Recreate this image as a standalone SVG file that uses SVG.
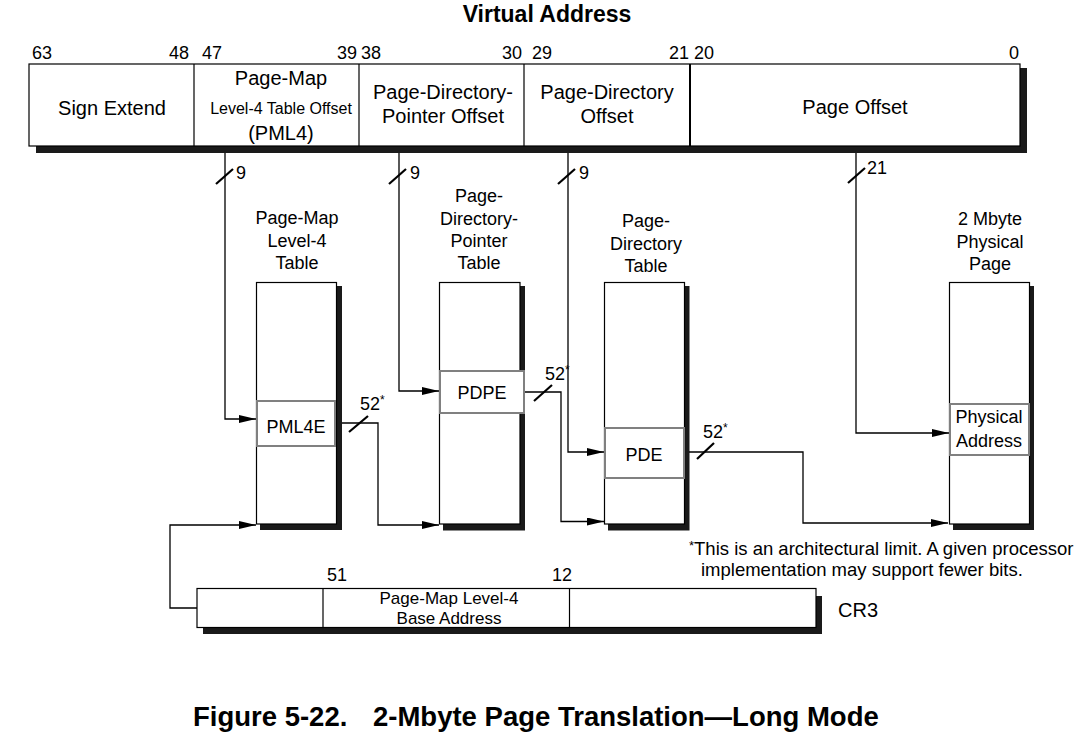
<svg xmlns="http://www.w3.org/2000/svg" width="1088" height="740" viewBox="0 0 1088 740">
<style>
text{font-family:"Liberation Sans",Arial,sans-serif;fill:#000}
.t20{font-size:20px}
.t18{font-size:18px}
.t16{font-size:16px}
.c{text-anchor:middle}
.e{text-anchor:end}
.box{fill:#fff;stroke:#000;stroke-width:1.2}
.sh{fill:#1a1a1a}
.ent{fill:#fff;stroke:#808080;stroke-width:2}
.ln{fill:none;stroke:#000;stroke-width:1.3}
.sl{stroke:#000;stroke-width:2.2}
</style>
<defs>
<marker id="ar" markerUnits="userSpaceOnUse" markerWidth="17" markerHeight="8" refX="17" refY="4" orient="auto">
<path d="M0,0 L17,4 L0,8 z" fill="#000"/>
</marker>
</defs>
<rect width="1088" height="740" fill="#fff"/>

<g id="title">
<text x="547" y="22" class="c" style="font-size:23px;font-weight:bold">Virtual Address</text>
</g>

<g id="virtual-address">
<rect class="sh" x="36" y="68" width="991" height="85"/>
<rect class="box" x="29" y="64" width="991" height="82"/>
<line x1="194" y1="64" x2="194" y2="146" stroke="#000" stroke-width="1.2"/>
<line x1="359" y1="64" x2="359" y2="146" stroke="#000" stroke-width="1.2"/>
<line x1="524" y1="64" x2="524" y2="146" stroke="#000" stroke-width="1.2"/>
<line x1="690" y1="64" x2="690" y2="146" stroke="#000" stroke-width="2"/>
<text x="32" y="59" class="t18">63</text>
<text x="189" y="59" class="t18 e">48</text>
<text x="202" y="59" class="t18">47</text>
<text x="357" y="59" class="t18 e">39</text>
<text x="361" y="59" class="t18">38</text>
<text x="522" y="59" class="t18 e">30</text>
<text x="532" y="59" class="t18">29</text>
<text x="689" y="59" class="t18 e">21</text>
<text x="694" y="59" class="t18">20</text>
<text x="1019" y="59" class="t18 e">0</text>
<text x="112" y="115" class="t20 c">Sign Extend</text>
<text x="281" y="85" class="t20 c">Page-Map</text>
<text x="281" y="114" class="t16 c">Level-4 Table Offset</text>
<text x="281" y="140" class="t20 c">(PML4)</text>
<text x="443" y="99" class="t20 c">Page-Directory-</text>
<text x="443" y="123" class="t20 c">Pointer Offset</text>
<text x="607" y="99" class="t20 c">Page-Directory</text>
<text x="607" y="123" class="t20 c">Offset</text>
<text x="855" y="114" class="t20 c">Page Offset</text>
</g>

<g id="pml4-table">
<text x="297" y="224" class="t18 c">Page-Map</text>
<text x="297" y="247" class="t18 c">Level-4</text>
<text x="297" y="269" class="t18 c">Table</text>
<rect class="sh" x="260" y="286" width="82" height="244"/>
<rect class="box" x="256.5" y="282.5" width="80" height="241.5"/>
<rect class="ent" x="257" y="401" width="78" height="45"/>
<text x="296" y="433" class="t18 c">PML4E</text>
</g>

<g id="pdp-table">
<text x="479" y="202" class="t18 c">Page-</text>
<text x="479" y="225" class="t18 c">Directory-</text>
<text x="479" y="247" class="t18 c">Pointer</text>
<text x="479" y="269" class="t18 c">Table</text>
<rect class="sh" x="443" y="286" width="82" height="244.5"/>
<rect class="box" x="439.5" y="282.5" width="80.5" height="241.5"/>
<rect class="ent" x="440" y="371" width="84" height="42"/>
<text x="482" y="399" class="t18 c">PDPE</text>
</g>

<g id="pd-table">
<text x="646" y="227" class="t18 c">Page-</text>
<text x="646" y="250" class="t18 c">Directory</text>
<text x="646" y="272" class="t18 c">Table</text>
<rect class="sh" x="608" y="286" width="81.5" height="244.5"/>
<rect class="box" x="604.5" y="282.5" width="80" height="241.5"/>
<rect class="ent" x="605" y="428" width="79" height="50"/>
<text x="644" y="461" class="t18 c">PDE</text>
</g>

<g id="physical-page">
<text x="990" y="225" class="t18 c">2 Mbyte</text>
<text x="990" y="248" class="t18 c">Physical</text>
<text x="990" y="270" class="t18 c">Page</text>
<rect class="sh" x="953" y="286" width="81" height="244"/>
<rect class="box" x="949.5" y="282.5" width="80" height="241.5"/>
<rect class="ent" x="950" y="404" width="79" height="51"/>
<text x="989" y="423" class="t18 c">Physical</text>
<text x="989" y="447" class="t18 c">Address</text>
</g>

<g id="cr3">
<rect class="sh" x="203" y="596" width="619" height="38"/>
<rect class="box" x="197" y="588.5" width="619" height="39"/>
<line x1="323" y1="588.5" x2="323" y2="627.5" stroke="#000" stroke-width="1.2"/>
<line x1="569.5" y1="588.5" x2="569.5" y2="627.5" stroke="#000" stroke-width="1.2"/>
<text x="327" y="581" class="t18">51</text>
<text x="572" y="581" class="t18 e">12</text>
<text x="449" y="604" style="font-size:17px" class="c">Page-Map Level-4</text>
<text x="449" y="624" style="font-size:17px" class="c">Base Address</text>
<text x="838" y="617" class="t20">CR3</text>
</g>

<g id="footnote">
<text x="689" y="555" style="font-size:18.5px"><tspan style="font-size:13px" dy="-5">*</tspan><tspan dy="5">This is an architectural limit. A given processor</tspan></text>
<text x="701" y="576" style="font-size:18.5px">implementation may support fewer bits.</text>
</g>

<g id="connectors">
<polyline class="ln" points="225,153 225,419 256,419" marker-end="url(#ar)"/>
<polyline class="ln" points="399,153 399,391 439,391" marker-end="url(#ar)"/>
<polyline class="ln" points="568,153 568,452 604,452" marker-end="url(#ar)"/>
<polyline class="ln" points="856,153 856,433 949,433" marker-end="url(#ar)"/>
<polyline class="ln" points="342,423 378,423 378,525 439,525" marker-end="url(#ar)"/>
<polyline class="ln" points="525,392 561,392 561,521.5 604,521.5" marker-end="url(#ar)"/>
<polyline class="ln" points="689,452 803,452 803,523 948,523" marker-end="url(#ar)"/>
<polyline class="ln" points="197,608 170,608 170,525 256,525" marker-end="url(#ar)"/>
<line class="sl" x1="216" y1="184" x2="233" y2="169"/>
<line class="sl" x1="389" y1="184" x2="406" y2="169"/>
<line class="sl" x1="558" y1="184" x2="575" y2="169"/>
<line class="sl" x1="848" y1="183" x2="865" y2="168"/>
<line class="sl" x1="349" y1="432" x2="368" y2="416"/>
<line class="sl" x1="534" y1="401" x2="552" y2="385"/>
<line class="sl" x1="697" y1="459" x2="714" y2="443"/>
<text x="236" y="179" class="t18">9</text>
<text x="410" y="179" class="t18">9</text>
<text x="579" y="179" class="t18">9</text>
<text x="867" y="174" class="t18">21</text>
<text x="360" y="410" class="t18">52<tspan style="font-size:12px" dy="-6">*</tspan></text>
<text x="545" y="380" class="t18">52<tspan style="font-size:12px" dy="-6">*</tspan></text>
<text x="703" y="438" class="t18">52<tspan style="font-size:12px" dy="-6">*</tspan></text>
</g>

<g id="caption">
<text x="193" y="726" style="font-size:27.5px;font-weight:bold">Figure 5-22.</text>
<text x="373" y="726" style="font-size:27.5px;font-weight:bold">2-Mbyte Page Translation—Long Mode</text>
</g>
</svg>
